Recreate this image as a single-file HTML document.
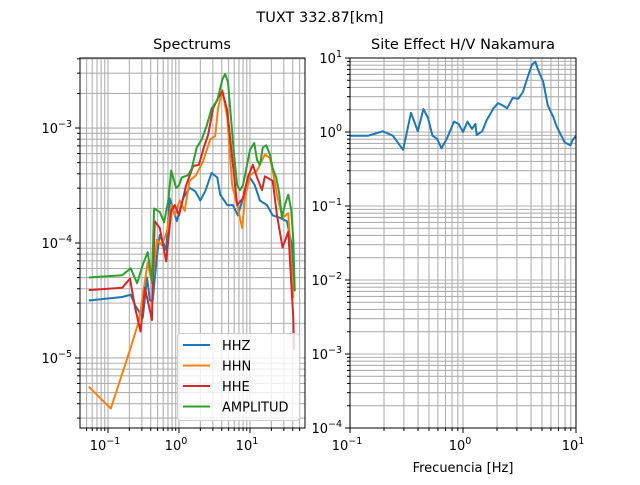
<!DOCTYPE html>
<html><head><meta charset="utf-8"><style>
html,body{margin:0;padding:0;background:#fff;}
svg text{font-family:"DejaVu Sans","Liberation Sans",sans-serif;fill:#000;}
</style></head><body>
<svg id="fig" width="640" height="480" viewBox="0 0 640 480" xmlns="http://www.w3.org/2000/svg">
<rect width="640" height="480" fill="#fff"/>
<text x="320" y="22" text-anchor="middle" font-size="14.5">TUXT 332.87[km]</text>
<text x="192" y="49" text-anchor="middle" font-size="14.5">Spectrums</text>
<text x="463" y="49" text-anchor="middle" font-size="14.5">Site Effect H/V Nakamura</text>
<text x="463" y="472" text-anchor="middle" font-size="13">Frecuencia [Hz]</text>
<g id="left"></g>
<g id="right"></g>
</svg>
<script>
// ---- Spectrums data (log10 frequency, log10 amplitude) ----
const hhzLogF = [-1.27,-0.80,-0.68,-0.62,-0.51,-0.45,-0.41,-0.37,-0.31,-0.27,-0.18,-0.13,-0.03,0.06,0.15,0.23,0.30,0.37,0.46,0.54,0.58,0.68,0.76,0.83,0.93,1.00,1.07,1.14,1.24,1.32,1.42,1.52,1.59,1.63];
const hhzLogA = [-4.50,-4.47,-4.45,-4.54,-4.65,-4.30,-4.50,-4.50,-4.11,-3.93,-4.06,-3.61,-3.81,-3.61,-3.52,-3.55,-3.63,-3.55,-3.39,-3.43,-3.58,-3.67,-3.67,-3.76,-3.55,-3.43,-3.50,-3.63,-3.67,-3.76,-3.78,-3.81,-4.02,-4.42];
const hhnLogF = [-1.27,-0.96,-0.69,-0.56,-0.44,-0.38,-0.31,-0.24,-0.17,-0.11,-0.06,0.01,0.08,0.15,0.24,0.34,0.44,0.51,0.55,0.61,0.68,0.75,0.82,0.89,0.93,1.00,1.10,1.21,1.28,1.32,1.39,1.46,1.54,1.61];
const hhnLogA = [-5.25,-5.44,-4.93,-4.67,-4.17,-4.35,-3.97,-4.02,-3.90,-3.67,-3.76,-3.63,-3.72,-3.46,-3.41,-3.29,-3.10,-3.07,-2.83,-2.67,-2.91,-3.50,-3.67,-3.87,-3.61,-3.41,-3.37,-3.23,-3.26,-3.37,-3.61,-3.78,-3.74,-4.48];
const hheLogF = [-1.27,-0.80,-0.69,-0.62,-0.54,-0.48,-0.44,-0.38,-0.37,-0.34,-0.27,-0.18,-0.11,-0.06,0,0.10,0.20,0.28,0.35,0.41,0.48,0.55,0.61,0.68,0.75,0.82,0.90,0.97,1.04,1.10,1.17,1.21,1.32,1.38,1.46,1.54,1.61,1.62];
const hheLogA = [-4.41,-4.39,-4.31,-4.56,-4.77,-4.39,-4.50,-4.67,-4.35,-3.81,-3.87,-4.16,-3.72,-3.67,-3.76,-3.50,-3.33,-3.32,-3.17,-3.06,-2.83,-2.74,-2.68,-2.85,-3.26,-3.67,-3.61,-3.43,-3.32,-3.43,-3.54,-3.42,-3.46,-3.76,-4.04,-3.90,-4.65,-4.93];
const ampLogF = [-1.27,-0.80,-0.68,-0.59,-0.51,-0.44,-0.38,-0.35,-0.27,-0.21,-0.15,-0.11,-0.04,0,0.04,0.13,0.18,0.25,0.32,0.39,0.46,0.54,0.61,0.65,0.69,0.73,0.77,0.82,0.86,0.90,0.94,1.00,1.06,1.10,1.14,1.18,1.23,1.28,1.32,1.37,1.41,1.45,1.49,1.54,1.58,1.61,1.63];
const ampLogA = [-4.30,-4.28,-4.22,-4.35,-4.19,-4.08,-4.33,-3.70,-3.73,-3.82,-3.63,-3.37,-3.52,-3.50,-3.43,-3.41,-3.35,-3.17,-3.10,-2.98,-2.83,-2.76,-2.58,-2.53,-2.60,-2.89,-3.19,-3.50,-3.54,-3.50,-3.38,-3.19,-3.13,-3.28,-3.32,-3.17,-3.15,-3.23,-3.35,-3.43,-3.56,-3.78,-3.67,-3.58,-3.71,-3.97,-4.41];
const seriesNames = ["HHZ","HHN","HHE","AMPLITUD"];
const leftXTicks = [-1,0,1];
const leftYTicks = [-5,-4,-3];
// ---- H/V data ----
const hvLogF = [-1,-0.84,-0.71,-0.62,-0.53,-0.46,-0.40,-0.35,-0.31,-0.27,-0.23,-0.19,-0.14,-0.08,-0.04,0,0.04,0.08,0.11,0.12,0.17,0.21,0.27,0.31,0.35,0.39,0.44,0.49,0.53,0.57,0.61,0.64,0.67,0.71,0.75,0.80,0.83,0.87,0.90,0.95,0.97,1.0];
const hvLogVal = [-0.05,-0.05,0.01,-0.05,-0.24,0.26,0.01,0.31,0.19,-0.05,-0.09,-0.22,-0.08,0.14,0.11,0.00,0.14,0.04,0.11,-0.04,0.01,0.16,0.32,0.39,0.36,0.32,0.46,0.45,0.54,0.73,0.91,0.95,0.82,0.68,0.36,0.20,0.07,-0.05,-0.14,-0.18,-0.11,-0.05];
const rightXTicks = [-1,0,1];
const rightYTicks = [-4,-3,-2,-1,0,1];

const NS="http://www.w3.org/2000/svg";
function mk(tag, attrs, parent){const e=document.createElementNS(NS,tag);for(const k in attrs)e.setAttribute(k,attrs[k]);parent.appendChild(e);return e;}
function tickLabel(parent,x,y,exp,anchor){
  const t=mk("text",{x:x,y:y,"font-size":"13","text-anchor":anchor},parent);
  
  
  t.appendChild(document.createTextNode("10"));
  const s=mk("tspan",{dy:"-6","font-size":"9.5"},t);
  s.textContent=(exp<0?"\u2212":"")+Math.abs(exp);
}
function panel(g, box, xr, yr, xTicks, yTicks){
  const sx=v=>box.x0+(v-xr[0])/(xr[1]-xr[0])*(box.x1-box.x0);
  const sy=v=>box.y1-(v-yr[0])/(yr[1]-yr[0])*(box.y1-box.y0);
  const grid=mk("g",{stroke:"#b0b0b0","stroke-width":"1.1"},g);
  
  
  const ticks=mk("g",{stroke:"#000","stroke-width":"1"},g);
  for(let d=Math.floor(xr[0]);d<=Math.ceil(xr[1]);d++){
    for(let m=1;m<10;m++){const v=d+Math.log10(m);if(v<xr[0]||v>xr[1])continue;const x=sx(v);
      mk("line",{x1:x,x2:x,y1:box.y0,y2:box.y1},grid);
      mk("line",{x1:x,x2:x,y1:box.y1,y2:box.y1+(m==1?5:3)},ticks);}
  }
  for(let d=Math.floor(yr[0]);d<=Math.ceil(yr[1]);d++){
    for(let m=1;m<10;m++){const v=d+Math.log10(m);if(v<yr[0]||v>yr[1])continue;const y=sy(v);
      mk("line",{x1:box.x0,x2:box.x1,y1:y,y2:y},grid);
      mk("line",{x1:box.x0,x2:box.x0-(m==1?5:3),y1:y,y2:y},ticks);}
  }
  xTicks.forEach(v=>tickLabel(g,sx(v)-3,box.y1+22,v,"middle"));
  yTicks.forEach(v=>tickLabel(g,box.x0-8,sy(v)+5,v,"end"));
  return {sx,sy};
}
function line(g,sc,xs,ys,color,name){
  const d=xs.map((v,i)=>(i?"L":"M")+sc.sx(v).toFixed(1)+","+sc.sy(ys[i]).toFixed(1)).join("");
  const p=mk("path",{d:d,fill:"none",stroke:color,"stroke-width":"2","stroke-linejoin":"round"},g);
  
  
}
const L=document.getElementById("left");
const lbox={x0:80,x1:305,y0:58,y1:428};
const ls=panel(L,lbox,[-1.394,1.775],[-5.609,-2.391],leftXTicks,leftYTicks);
const clipL=mk("clipPath",{id:"cl"},L);mk("rect",{x:80,y:58,width:225,height:370},clipL);
const lg=mk("g",{"clip-path":"url(#cl)"},L);
line(lg,ls,hhzLogF,hhzLogA,"#1f77b4","hhz-line");
line(lg,ls,hhnLogF,hhnLogA,"#ff7f0e","hhn-line");
line(lg,ls,hheLogF,hheLogA,"#d62728","hhe-line");
line(lg,ls,ampLogF,ampLogA,"#2ca02c","amplitud-line");
mk("rect",{x:80,y:58,width:225,height:370,fill:"none",stroke:"#000","stroke-width":"1"},L);
// legend
const leg=mk("g",{},L);


mk("rect",{x:177.5,y:333.5,width:122,height:87,rx:3,fill:"#fff","fill-opacity":"0.8",stroke:"#ccc"},leg);
const legColors=["#1f77b4","#ff7f0e","#d62728","#2ca02c"];
seriesNames.forEach((n,i)=>{
  const y=345+i*20.5;
  const e=mk("g",{},leg);
  
  
  mk("line",{x1:183,x2:210,y1:y,y2:y,stroke:legColors[i],"stroke-width":"2"},e);
  const t=mk("text",{x:222,y:y+5,"font-size":"13"},e);t.textContent=n;
});
const R=document.getElementById("right");
const rbox={x0:350,x1:576,y0:58,y1:428};
const rs=panel(R,rbox,[-1,1],[-4,1],rightXTicks,rightYTicks);
line(R,rs,hvLogF,hvLogVal,"#1f77b4","hv-line");
mk("rect",{x:350,y:58,width:226,height:370,fill:"none",stroke:"#000","stroke-width":"1"},R);
</script>
</body></html>
